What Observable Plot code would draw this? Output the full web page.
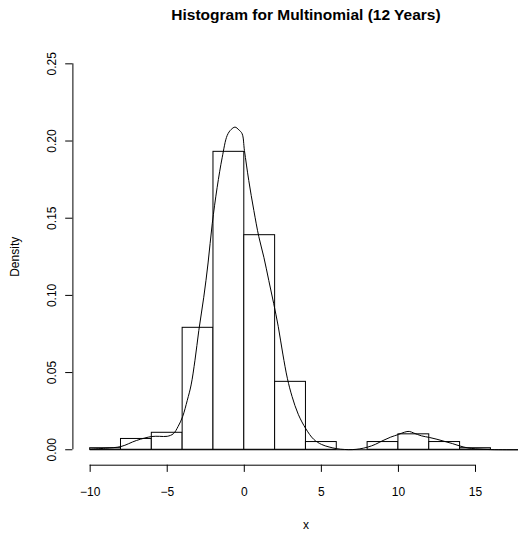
<!DOCTYPE html>
<html><head><meta charset="utf-8">
<script src="https://cdn.jsdelivr.net/npm/d3@7"></script>
<script src="https://cdn.jsdelivr.net/npm/@observablehq/plot@0.6"></script>
<style>
html,body{margin:0;padding:0;background:#fff;overflow:hidden;}
#chart svg{max-width:none;}
</style></head><body><div id="chart"></div>
<script>
const titleText = "Histogram for Multinomial (12 Years)";
const xLabel = "x";
const yLabel = "Density";

const binStart = [-10,-8,-6,-4,-2,0,2,4,6,8,10,12,14,16];
const binEnd   = [-8,-6,-4,-2,0,2,4,6,8,10,12,14,16,18];
const binDensity = [0.001,0.007,0.011,0.079,0.193,0.139,0.044,0.005,0,0.005,0.010,0.005,0.001,0];

const densityX = [-10,-9,-8,-7,-6,-5.5,-5,-4.6,-4.3,-4.0,-3.7,-3.45,-3.2,-2.95,-2.63,-2.35,-2.08,-1.76,-1.43,-1.11,-0.85,-0.6,-0.35,-0.14,0.01,0.29,0.62,0.94,1.27,1.59,1.91,2.2,2.5,2.8,3.1,3.5,4.0,4.5,5.0,5.5,6.0,6.5,7.0,7.5,8.0,8.5,9.0,9.5,10.0,10.4,10.7,11.0,11.5,12.0,12.5,13.0,13.5,14.0,14.5,15.0,15.5,16,17,18,19.3];
const densityY = [0.0004,0.0010,0.0021,0.0060,0.0086,0.0087,0.0087,0.0104,0.0150,0.0215,0.0320,0.0420,0.058,0.0773,0.0988,0.121,0.1464,0.170,0.1895,0.2036,0.2075,0.2090,0.2072,0.2047,0.1938,0.1744,0.155,0.1381,0.1247,0.1096,0.0946,0.080,0.062,0.046,0.0345,0.0230,0.0135,0.0068,0.0035,0.0018,0.0007,0.0002,0.0001,0.0006,0.0017,0.0035,0.0060,0.0082,0.0099,0.0114,0.0119,0.0108,0.0090,0.0080,0.0068,0.0054,0.0040,0.0024,0.0012,0.0006,0.0003,0.0001,0,0,0];

const xTicks = [-10,-5,0,5,10,15];
const yTicks = [0,0.05,0.10,0.15,0.20,0.25];

const xDomain = [-11.12, 19.12];
const yDomain = [-0.01, 0.26];

const bins = binStart.map((s,i)=>({x1:s, x2:binEnd[i], d:binDensity[i]}));
const dens = densityX.map((x,i)=>({x, y:densityY[i]}));
const fx = d3.format("");
const fy = d3.format(".2f");
const font = "Liberation Sans, Arial, Helvetica, sans-serif";
const mid = {textAnchor: "middle", lineAnchor: "middle"};

const chart = Plot.plot({
  width: 518,
  height: 535,
  marginLeft: 72.4,
  marginRight: -20.5,
  marginTop: 47.9,
  marginBottom: 70.3,
  style: {fontFamily: font, background: "white", color: "black"},
  x: {domain: xDomain, axis: null},
  y: {domain: yDomain, axis: null},
  marks: [
    Plot.rect(bins, {x1:"x1", x2:"x2", y1:()=>0, y2:"d", fill:"white", stroke:"black", strokeWidth:1}),
    Plot.ruleY(bins, {y:()=>0, x1:"x1", x2:"x2", stroke:"black", strokeWidth:1}),
    Plot.line(dens, {x:"x", y:"y", curve:"catmull-rom", stroke:"black", strokeWidth:1}),
    // x axis
    Plot.ruleY([yDomain[0]], {x1: xTicks[0], x2: xTicks[xTicks.length-1], stroke:"black"}),
    Plot.axisX({ticks: xTicks, tickSize: 7.2, tickFormat: () => "", label: null, anchor: "bottom"}),
    Plot.text(xTicks, {x: d=>d, frameAnchor:"bottom", dy: 27, text: d=>fx(d), fontSize: 12, ...mid}),
    // y axis
    Plot.ruleX([xDomain[0]], {y1: yTicks[0], y2: yTicks[yTicks.length-1], stroke:"black"}),
    Plot.axisY({ticks: yTicks, tickSize: 7.2, tickFormat: () => "", label: null, anchor: "left"}),
    Plot.text(yTicks, {y: d=>d, frameAnchor:"left", dx: -20.6, rotate: -90, text: d=>fy(d), fontSize: 12, ...mid}),
    // titles
    Plot.text([titleText], {frameAnchor:"top", dy: -33.5, fontSize: 15.5, fontWeight:"bold", text: d=>d, ...mid}),
    Plot.text([yLabel], {frameAnchor:"left", dx: -57.4, rotate: -90, fontSize: 12, text: d=>d, ...mid}),
    Plot.text([xLabel], {frameAnchor:"bottom", dy: 60, fontSize: 12, text: d=>d, ...mid})
  ]
});
document.getElementById("chart").appendChild(chart);
</script>
</body></html>
